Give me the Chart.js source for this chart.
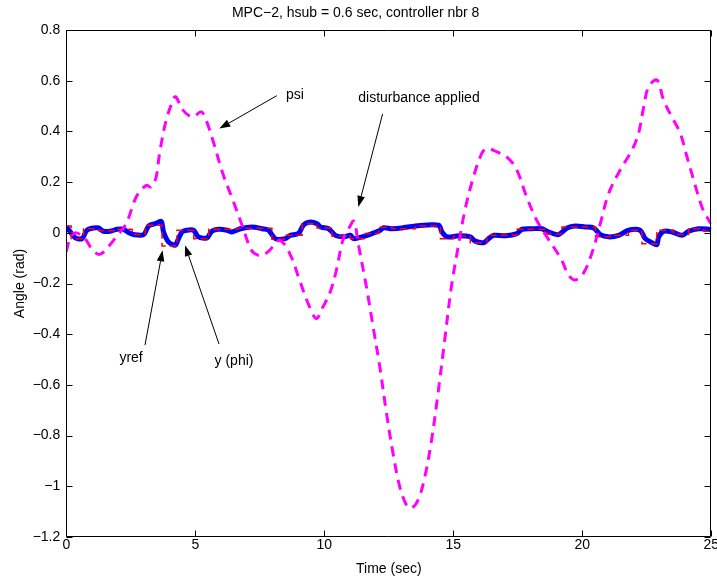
<!DOCTYPE html>
<html><head><meta charset="utf-8">
<script src="https://cdn.jsdelivr.net/npm/chart.js@4.4.1/dist/chart.umd.min.js"></script>
<style>html,body{margin:0;padding:0;background:#fff;}#wrap{width:717px;height:579px;}</style>
</head><body><div id="wrap"><canvas id="c" width="717" height="579"></canvas></div>
<script>
// ---- data ----
const xTicks = [0, 5, 10, 15, 20, 25];
const yTicks = [0.8, 0.6, 0.4, 0.2, 0, -0.2, -0.4, -0.6, -0.8, -1, -1.2];

const psiT = [0, 0.15, 0.35, 0.7, 1.0, 1.25, 1.45, 1.93, 2.32, 2.71, 3.09, 3.29, 3.48, 3.61, 3.87, 4.19, 4.26, 4.52, 4.90, 5.23, 5.42, 5.68, 6.07, 6.46, 6.84, 7.17, 7.42, 7.62, 7.88, 8.27, 8.66, 9.04, 9.37, 9.69, 9.95, 10.21, 10.47, 10.72, 10.98, 11.15, 11.31, 11.63, 11.89, 12.15, 12.41, 12.66, 12.92, 13.18, 13.38, 13.64, 13.90, 14.16, 14.41, 14.67, 14.93, 15.19, 15.45, 15.78, 16.10, 16.29, 16.68, 17.13, 17.46, 17.84, 18.23, 18.62, 18.88, 19.20, 19.46, 19.72, 20.04, 20.37, 20.70, 21.02, 21.47, 21.93, 22.18, 22.38, 22.57, 22.90, 23.15, 23.54, 23.80, 24.06, 24.32, 24.64, 24.90, 25.0];
const psiV = [-0.075, -0.02, 0.0, -0.02, -0.065, -0.085, -0.075, -0.017, 0.036, 0.141, 0.187, 0.181, 0.22, 0.31, 0.444, 0.535, 0.535, 0.484, 0.457, 0.477, 0.444, 0.365, 0.233, 0.128, 0.022, -0.068, -0.088, -0.088, -0.069, -0.03, -0.082, -0.186, -0.278, -0.338, -0.292, -0.239, -0.147, -0.029, 0.023, 0.046, -0.04, -0.212, -0.37, -0.528, -0.711, -0.868, -1.0, -1.073, -1.086, -1.053, -0.961, -0.816, -0.631, -0.42, -0.21, -0.055, 0.089, 0.22, 0.312, 0.332, 0.32, 0.294, 0.248, 0.142, 0.05, -0.015, -0.055, -0.107, -0.166, -0.186, -0.16, -0.081, 0.037, 0.155, 0.248, 0.327, 0.392, 0.497, 0.576, 0.602, 0.523, 0.444, 0.392, 0.299, 0.207, 0.101, 0.05, 0.035];

const yrefT = [0, 0.19, 0.67, 1.25, 1.85, 2.55, 3.06, 3.71, 4.29, 4.94, 5.52, 6.62, 7.97, 8.49, 9.14, 9.72, 10.3, 11.01, 11.59, 12.11, 12.62, 13.53, 14.5, 15.01, 15.66, 16.3, 17.47, 18.63, 19.21, 20.51, 21.09, 21.79, 22.31, 22.89, 23.54, 24.12, 24.71, 25];
const yrefV = [0.027, -0.023, 0.016, 0.008, 0.014, -0.007, 0.03, -0.052, 0.01, -0.023, 0.014, 0.018, -0.025, -0.01, 0.036, 0.019, -0.014, -0.023, -0.003, 0.022, 0.016, 0.027, -0.023, -0.014, -0.039, -0.01, 0.014, -0.005, 0.023, -0.016, -0.01, 0.01, -0.043, 0.01, -0.007, 0.016, 0.006, 0.006];

const phiT = [0, 0.16, 0.35, 0.61, 0.80, 1.06, 1.25, 1.44, 1.70, 1.96, 2.22, 2.41, 2.61, 3.00, 3.19, 3.45, 3.68, 3.77, 3.96, 4.22, 4.32, 4.48, 4.67, 4.93, 5.12, 5.45, 5.64, 5.90, 6.23, 6.42, 6.75, 7.20, 7.59, 7.84, 8.10, 8.49, 8.68, 9.00, 9.20, 9.46, 9.72, 9.85, 10.17, 10.43, 10.75, 11.01, 11.14, 11.46, 11.85, 12.17, 12.30, 12.62, 13.01, 13.53, 14.43, 14.56, 14.76, 15.21, 15.66, 15.85, 16.18, 16.37, 16.57, 17.02, 17.47, 17.66, 18.05, 18.44, 18.70, 19.08, 19.41, 19.73, 20.11, 20.44, 20.70, 21.02, 21.41, 21.79, 22.24, 22.44, 22.70, 22.89, 22.96, 23.15, 23.48, 23.87, 24.12, 24.51, 24.90, 25.0];
const phiV = [0.025, 0.003, -0.02, -0.023, 0.01, 0.019, 0.019, 0.006, 0.006, 0.014, 0.014, 0.001, -0.007, -0.007, 0.027, 0.036, 0.045, 0.003, -0.036, -0.049, -0.03, 0.003, 0.01, 0.01, -0.016, -0.02, 0.006, 0.014, 0.01, 0.003, 0.016, 0.023, 0.016, 0.01, -0.023, -0.023, -0.01, -0.003, 0.032, 0.043, 0.036, 0.023, 0.016, -0.01, -0.016, -0.01, -0.023, -0.016, -0.003, 0.01, 0.02, 0.016, 0.019, 0.027, 0.030, 0.003, -0.016, -0.012, -0.016, -0.033, -0.039, -0.023, -0.01, -0.012, -0.003, 0.014, 0.016, 0.016, 0.003, -0.007, 0.019, 0.027, 0.023, 0.019, -0.007, -0.016, -0.01, 0.01, 0.01, -0.023, -0.039, -0.047, -0.016, 0.006, 0.003, -0.01, 0.006, 0.016, 0.014, 0.012];

// annotation anchors (data coordinates)
const noteText = ['psi', 'disturbance applied', 'yref', 'y (phi)'];
const noteT = [8.86, 13.67, 2.51, 6.5];
const noteV = [0.545, 0.53, -0.494, -0.506];
const arrowFromT = [8.16, 12.26, 3.05, 5.92];
const arrowFromV = [0.541, 0.469, -0.443, -0.439];
const arrowToT = [5.93, 11.32, 3.73, 4.60];
const arrowToV = [0.411, 0.102, -0.069, -0.049];

const FONT = "'Liberation Sans', Arial, Helvetica, sans-serif";
const pts = (T, V) => T.map((t, i) => ({x: t, y: V[i]}));
const fmt = v => { const r = Math.round(v * 10) / 10; return (r < 0 ? '\u2212' : '') + String(Math.abs(r)); };

const framePlugin = {
  id: 'frame',
  afterDraw(chart) {
    const {ctx, chartArea: a, scales: {x, y}} = chart;
    ctx.save();
    ctx.strokeStyle = '#000';
    ctx.lineWidth = 1;
    const L = Math.round(a.left) + 0.5, R = Math.round(a.right) - 0.5, T = Math.round(a.top) + 0.5, B = Math.round(a.bottom) - 0.5;
    ctx.beginPath();
    ctx.rect(L, T, R - L, B - T);
    const tl = 6;
    xTicks.forEach(v => {
      const p = Math.round(x.getPixelForValue(v)) + 0.5;
      ctx.moveTo(p, B); ctx.lineTo(p, B - tl);
      ctx.moveTo(p, T); ctx.lineTo(p, T + tl);
    });
    yTicks.forEach(v => {
      const p = Math.round(y.getPixelForValue(v)) + 0.5;
      ctx.moveTo(L, p); ctx.lineTo(L + tl, p);
      ctx.moveTo(R, p); ctx.lineTo(R - tl, p);
    });
    ctx.stroke();
    // arrows
    ctx.fillStyle = '#000';
    for (let i = 0; i < arrowFromT.length; i++) {
      const x0 = x.getPixelForValue(arrowFromT[i]), y0 = y.getPixelForValue(arrowFromV[i]);
      const x1 = x.getPixelForValue(arrowToT[i]), y1 = y.getPixelForValue(arrowToV[i]);
      const ang = Math.atan2(y1 - y0, x1 - x0);
      const hl = 11, hw = 3.8;
      const bx = x1 - hl * Math.cos(ang), by = y1 - hl * Math.sin(ang);
      ctx.beginPath();
      ctx.moveTo(x0, y0); ctx.lineTo(bx, by);
      ctx.stroke();
      ctx.beginPath();
      ctx.moveTo(x1, y1);
      ctx.lineTo(bx + hw * Math.sin(ang), by - hw * Math.cos(ang));
      ctx.lineTo(bx - hw * Math.sin(ang), by + hw * Math.cos(ang));
      ctx.closePath();
      ctx.fill();
    }
    ctx.font = '14px ' + FONT;
    ctx.textAlign = 'center';
    ctx.textBaseline = 'middle';
    for (let i = 0; i < noteText.length; i++) {
      ctx.fillText(noteText[i], x.getPixelForValue(noteT[i]), y.getPixelForValue(noteV[i]));
    }
    ctx.restore();
  }
};

new Chart(document.getElementById('c'), {
  type: 'line',
  data: {
    datasets: [
      {label: 'psi', data: pts(psiT, psiV), borderColor: '#ff00ff', borderWidth: 3, borderDash: [10, 7], pointRadius: 0, tension: 0.35, fill: false, order: 0},
      {label: 'yref', data: pts(yrefT, yrefV), borderColor: '#ff0000', borderWidth: 1.5, borderDash: [7, 4], pointRadius: 0, stepped: true, fill: false, order: 1},
      {label: 'y (phi)', data: pts(phiT, phiV), borderColor: '#0000ff', borderWidth: 5, pointRadius: 0, tension: 0.3, fill: false, order: 2}
    ]
  },
  options: {
    responsive: false,
    animation: false,
    devicePixelRatio: 1,
    layout: {padding: {left: 0, right: 5.7, top: 0, bottom: 0}},
    plugins: {
      legend: {display: false},
      tooltip: {enabled: false},
      title: {display: true, text: 'MPC\u22122, hsub = 0.6 sec, controller nbr 8', color: '#000', font: {family: FONT, size: 14, weight: 'normal'}, padding: {top: 4.6, bottom: 8.6}}
    },
    scales: {
      x: {
        type: 'linear', min: 0, max: 25,
        afterBuildTicks: s => { s.ticks = xTicks.map(v => ({value: v})); },
        ticks: {color: '#000', font: {family: FONT, size: 14}, padding: 0, maxRotation: 0, autoSkip: false, callback: v => fmt(v)},
        grid: {display: false, drawTicks: false},
        border: {display: false},
        title: {display: true, text: 'Time (sec)', color: '#000', font: {family: FONT, size: 14}, padding: {top: 0, bottom: 1.6}},
        afterFit: s => { s.height = 42; s.paddingLeft = 0; s.paddingRight = 0; }
      },
      y: {
        type: 'linear', min: -1.2, max: 0.8,
        afterBuildTicks: s => { s.ticks = yTicks.map(v => ({value: v})); },
        ticks: {color: '#000', font: {family: FONT, size: 14}, padding: 6, autoSkip: false, callback: v => fmt(v)},
        grid: {display: false, drawTicks: false},
        border: {display: false},
        title: {display: true, text: 'Angle (rad)', color: '#000', font: {family: FONT, size: 14}, padding: {top: 11.6, bottom: 0}},
        afterFit: s => { s.width = 66.3; s.paddingTop = 0; s.paddingBottom = 0; }
      }
    }
  },
  plugins: [framePlugin]
});
</script></body></html>
